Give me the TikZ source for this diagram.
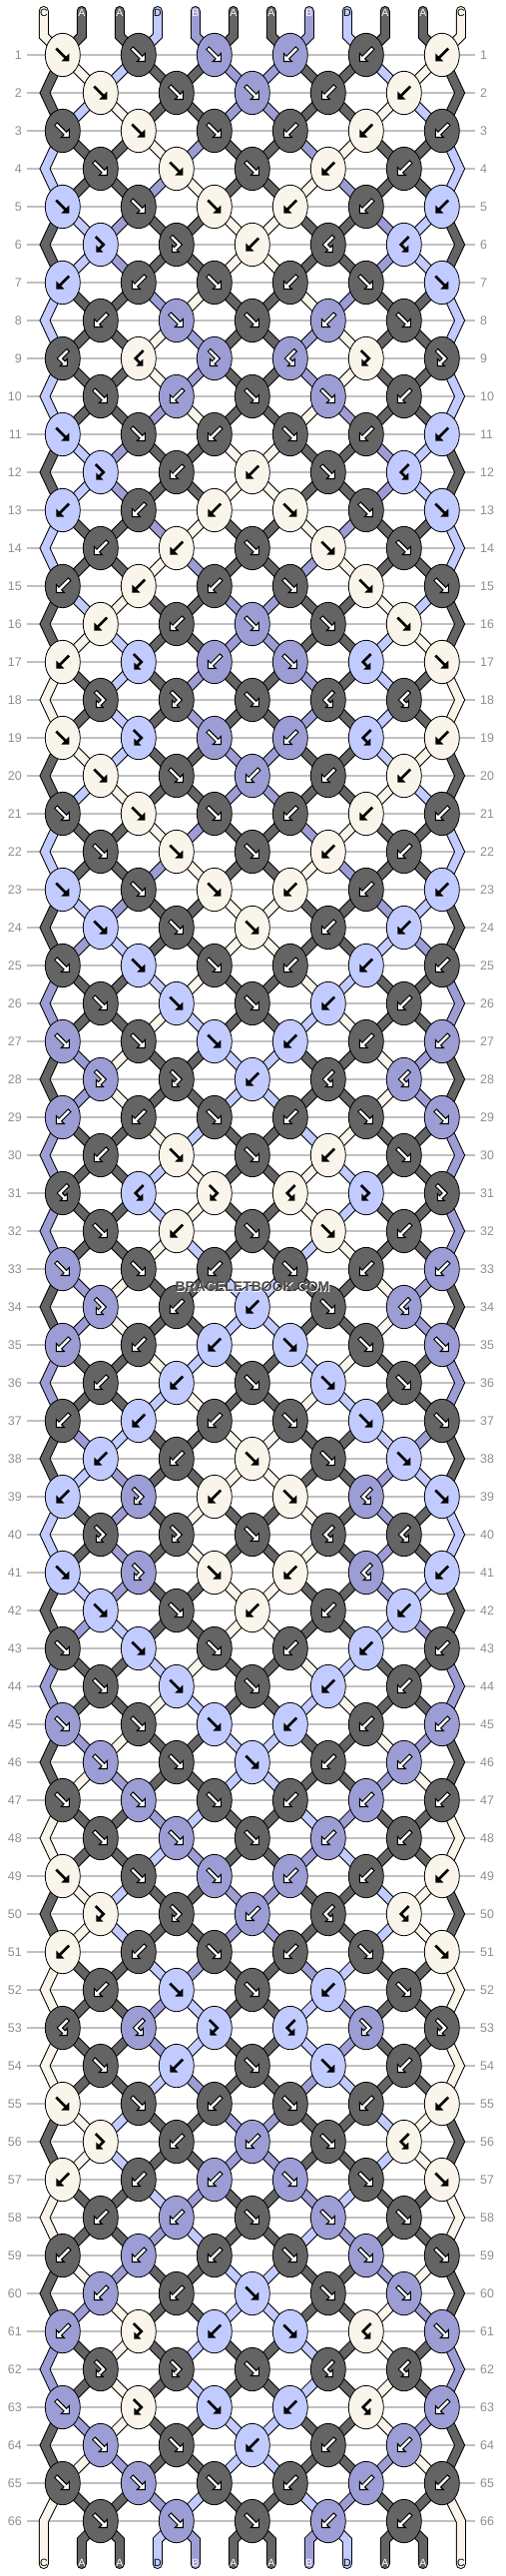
\documentclass[tikz,border=0pt]{standalone}
\usepackage{fontspec}
\setmainfont{Liberation Sans}
\usetikzlibrary{shapes.geometric}
\definecolor{colA}{HTML}{646464}
\definecolor{colB}{HTML}{9D9DD5}
\definecolor{colC}{HTML}{FAF5EA}
\definecolor{colD}{HTML}{C2CBFF}
\definecolor{labgray}{HTML}{8F8F8F}
\definecolor{linegray}{HTML}{C0C0C0}
\definecolor{logogray}{HTML}{4A4A4A}
\pgfdeclarelayer{rules}
\pgfdeclarelayer{threads}
\pgfsetlayers{rules,threads,main}
\def\setst#1#2{\expandafter\xdef\csname st#1\endcsname{#2}}
\def\getst#1{\csname st#1\endcsname}
\def\txtA{white}\def\txtB{white}\def\txtC{black}\def\txtD{black}
\gdef\threadcmds{}
\newcommand\glyphw[2]{%
  \draw[black,line width=4.6pt,line cap=rect,line join=miter] #1;
  \filldraw[fill=white,draw=black,line width=1.1pt,line join=miter] #2;
  \draw[white,line width=2.4pt,line cap=rect,line join=miter] #1;}
\newcommand\glyphk[2]{%
  \draw[black,line width=2.6pt,line cap=rect,line join=miter] #1;
  \fill[black] #2;}
\newcommand\glyph[3]{\if A#3\glyphw{#1}{#2}\else\if B#3\glyphw{#1}{#2}\else\glyphk{#1}{#2}\fi\fi}
\newcommand\knotglyph[4]{%
  \begin{scope}[shift={(#2,#3)}]
  \if f#1\glyph{(-5.5,-5.5) -- (2.5,2.5)}{(6.5,6.5) -- (-1.5,6.5) -- (6.5,-1.5) -- cycle}{#4}\fi
  \if b#1\glyph{(5.5,-5.5) -- (-2.5,2.5)}{(-6.5,6.5) -- (1.5,6.5) -- (-6.5,-1.5) -- cycle}{#4}\fi
  \if F#1\glyph{(-4,-7) -- (3,0) -- (-0.5,3.5)}{(-4.5,7.5) -- (2.5,7.5) -- (-4.5,0.5) -- cycle}{#4}\fi
  \if B#1\glyph{(4,-7) -- (-3,0) -- (0.5,3.5)}{(4.5,7.5) -- (-2.5,7.5) -- (4.5,0.5) -- cycle}{#4}\fi
  \end{scope}}
\newcommand\thread[3][]{\xdef\threadcmds{\unexpanded\expandafter{\threadcmds}\noexpand\draw[thr,double=col#2,#1] #3;}}
\begin{document}
\begin{tikzpicture}[x=1pt,y=-1pt,
  knot/.style={ellipse,draw=black,line width=0.8pt,minimum width=35pt,minimum height=43.4pt,inner sep=0pt},
  thr/.style={draw=black,line width=1pt,double distance=8pt,line join=miter},
  rowlab/.style={text=labgray,font=\fontsize{12.5}{12.5}\selectfont,inner sep=0pt},
  strlab/.style={font=\fontsize{10.5}{10.5}\selectfont,inner sep=0pt}]
\useasboundingbox (0,0) rectangle (506,2580);
\begin{pgfonlayer}{rules}
\fill[white] (0,0) rectangle (506,2580);
\foreach \rr in {1,...,66}{
  \pgfmathsetmacro\yy{55+38*(\rr-1)}
  \draw[linegray,line width=1.2pt] (27,\yy) -- (476,\yy);
}
\end{pgfonlayer}
\foreach \rr in {1,...,66}{
  \pgfmathsetmacro\yy{55+38*(\rr-1)}
  \node[rowlab,anchor=east] (labl\rr) at (22,\yy) {\rr};
  \node[rowlab,anchor=west] (labr\rr) at (481,\yy) {\rr};
}
\foreach \p/\c in {0/C,1/A,2/A,3/D,4/B,5/A,6/A,7/B,8/D,9/A,10/A,11/C}{
  \setst{\p}{\c}
  \coordinate (tp\p) at ({43.8+38*\p},11);
  \node[strlab,text=\csname txt\c\endcsname] (tl\p) at ({43.8+38*\p},12.5) {\c};
}
\foreach \types [count=\rr] in {
{f,f,f,b,b,b},{f,f,f,b,b},{f,f,f,b,b,b},{f,f,f,b,b},{f,f,f,b,b,b},{F,F,b,B,B},
{b,b,f,b,f,f},{b,f,f,b,f},{B,B,F,B,F,F},{f,b,f,f,b},{f,f,b,f,b,b},{F,b,b,f,B},
{b,b,b,f,f,f},{b,b,f,f,f},{b,b,b,f,f,f},{b,b,f,f,f},{b,F,b,f,B,f},{F,F,f,B,B},
{f,F,f,b,B,b},{f,f,b,b,b},{f,f,f,b,b,b},{f,f,f,b,b},{f,f,f,b,b,b},{f,f,f,b,b},
{f,f,f,b,b,b},{f,f,f,b,b},{f,f,f,b,b,b},{F,F,b,B,B},{b,b,f,b,f,f},{b,f,f,b,f},
{B,B,F,B,F,F},{f,b,f,f,b},{f,f,b,f,b,b},{F,b,b,f,B},{b,b,b,f,f,f},{b,b,f,f,f},
{b,b,b,f,f,f},{b,b,f,f,f},{b,F,b,f,B,f},{F,F,f,B,B},{f,F,f,b,B,b},{f,f,b,b,b},
{f,f,f,b,b,b},{f,f,f,b,b},{f,f,f,b,b,b},{f,f,f,b,b},{f,f,f,b,b,b},{f,f,f,b,b},
{f,f,f,b,b,b},{F,F,b,B,B},{b,b,f,b,f,f},{b,f,f,b,f},{B,B,F,B,F,F},{f,b,f,f,b},
{f,f,b,f,b,b},{F,b,b,f,B},{b,b,b,f,f,f},{b,b,f,f,f},{b,b,b,f,f,f},{b,b,f,f,f},
{b,F,b,f,B,f},{F,F,f,B,B},{f,F,f,b,B,b},{f,f,b,b,b},{f,f,f,b,b,b},{f,f,f,b,b}}{
  \pgfmathsetmacro\yy{55+38*(\rr-1)}
  \pgfmathsetmacro\yprev{\yy-38}
  \edef\prev{\number\numexpr\rr-1\relax}
  \edef\prevprev{\number\numexpr\rr-2\relax}
  \ifodd\rr\def\off{0}\else\def\off{1}\fi
  \foreach \kt [count=\ki from 0] in \types {
    \edef\pL{\number\numexpr2*\ki+\off\relax}
    \edef\pR{\number\numexpr\pL+1\relax}
    \edef\cL{\getst{\pL}}
    \edef\cR{\getst{\pR}}
    \if f\kt\edef\kc{\cL}\fi
    \if F\kt\edef\kc{\cL}\fi
    \if b\kt\edef\kc{\cR}\fi
    \if B\kt\edef\kc{\cR}\fi
    \pgfmathsetmacro\xx{62.8+76*\ki+38*\off}
    \node[knot,fill=col\kc] (k\rr-\ki) at (\xx,\yy) {};
    \knotglyph{\kt}{\xx}{\yy}{\kc}
    \ifnum\rr=1
      \thread[line cap=round]{\cL}{(tp\pL) -- ++(0,25) -- (k1-\ki.center)}
      \thread[line cap=round]{\cR}{(tp\pR) -- ++(0,25) -- (k1-\ki.center)}
    \else
      \ifodd\rr
        \ifnum\ki=0
          \thread{\cL}{(k\prevprev-0.center) -- (45,\yprev) -- (k\rr-0.center)}
        \else
          \edef\jj{\number\numexpr\ki-1\relax}
          \thread{\cL}{(k\prev-\jj.center) -- (k\rr-\ki.center)}
        \fi
        \ifnum\ki=5
          \thread{\cR}{(k\prevprev-5.center) -- (460.6,\yprev) -- (k\rr-5.center)}
        \else
          \thread{\cR}{(k\prev-\ki.center) -- (k\rr-\ki.center)}
        \fi
      \else
        \edef\jj{\number\numexpr\ki+1\relax}
        \thread{\cL}{(k\prev-\ki.center) -- (k\rr-\ki.center)}
        \thread{\cR}{(k\prev-\jj.center) -- (k\rr-\ki.center)}
      \fi
    \fi
    \if f\kt\setst{\pL}{\cR}\setst{\pR}{\cL}\fi
    \if b\kt\setst{\pL}{\cR}\setst{\pR}{\cL}\fi
  }
}
\foreach \p in {0,...,11}{
  \edef\cc{\getst{\p}}
  \pgfmathsetmacro\xp{43.8+38*\p}
  \coordinate (bt\p) at (\xp,2568);
  \ifnum\p=0
    \thread[line cap=round]{\cc}{(k65-0.center) -- (\xp,2525) -- (bt\p)}
  \else\ifnum\p=11
    \thread[line cap=round]{\cc}{(k65-5.center) -- (\xp,2525) -- (bt\p)}
  \else
    \pgfmathtruncatemacro\jj{(\p-1)/2}
    \thread[line cap=round]{\cc}{(k66-\jj.center) -- (\xp,2544) -- (bt\p)}
  \fi\fi
  \node[strlab,text=\csname txt\cc\endcsname] (bl\p) at (\xp,2567) {\cc};
}
\begin{pgfonlayer}{threads}
\threadcmds
\end{pgfonlayer}
\node[font=\bfseries\fontsize{14}{14}\selectfont,text=white,inner sep=0pt] (logoshadow) at (253.8,1289.8) {BRACELETBOOK.COM};
\node[font=\bfseries\fontsize{14}{14}\selectfont,text=logogray,inner sep=0pt] (logo) at (253,1289) {BRACELETBOOK.COM};
\end{tikzpicture}
\end{document}
